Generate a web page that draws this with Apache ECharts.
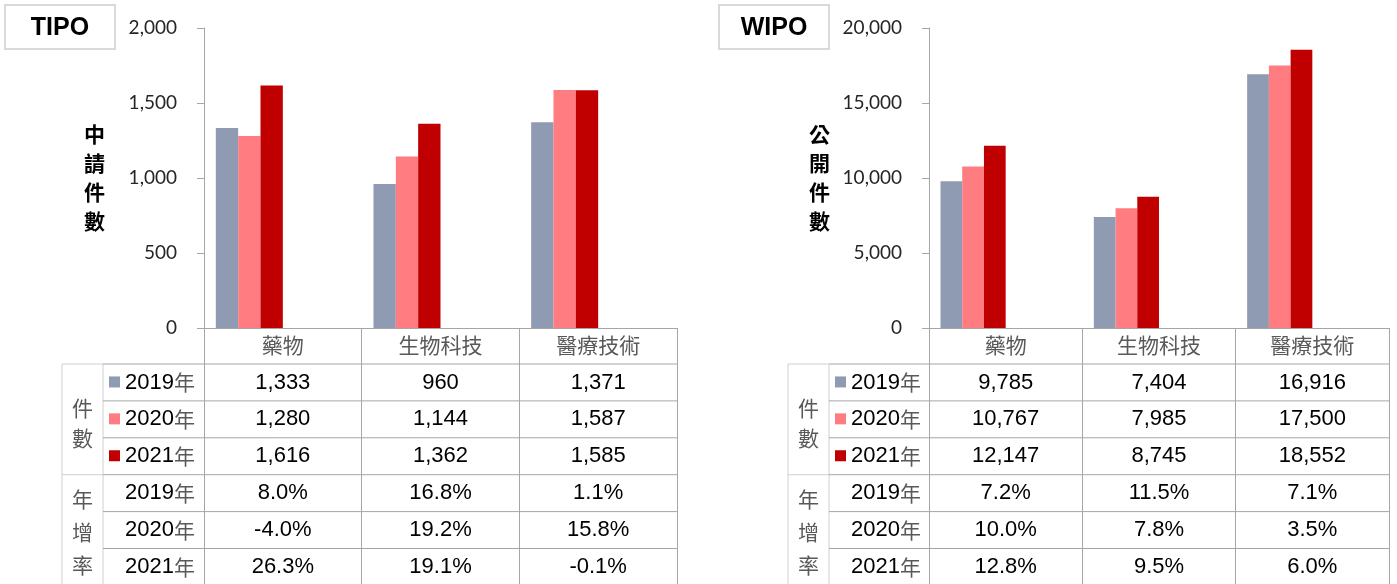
<!DOCTYPE html>
<html>
<head>
<meta charset="utf-8">
<script src="https://cdn.jsdelivr.net/npm/echarts@6/dist/echarts.min.js"></script>
<style>
  html, body { margin: 0; padding: 0; background: #fff; }
  #chart { width: 1397px; height: 584px; }
</style>
</head>
<body>
<div id="chart"></div>
<script>
const categories = ['藥物', '生物科技', '醫療技術']
const years = ['2019', '2020', '2021']
const colors = ['#8e9bb3', '#ff7c80', '#c00000']

// TIPO 申請件數
const tipo2019 = [1333, 960, 1371]
const tipo2020 = [1280, 1144, 1587]
const tipo2021 = [1616, 1362, 1585]
// TIPO 年增率 (%)
const tipoGrowth2019 = [8.0, 16.8, 1.1]
const tipoGrowth2020 = [-4.0, 19.2, 15.8]
const tipoGrowth2021 = [26.3, 19.1, -0.1]

// WIPO 公開件數
const wipo2019 = [9785, 7404, 16916]
const wipo2020 = [10767, 7985, 17500]
const wipo2021 = [12147, 8745, 18552]
// WIPO 年增率 (%)
const wipoGrowth2019 = [7.2, 11.5, 7.1]
const wipoGrowth2020 = [10.0, 7.8, 3.5]
const wipoGrowth2021 = [12.8, 9.5, 6.0]

const panels = [
    {
        title: 'TIPO', yName: '中\n請\n件\n數', max: 2000, interval: 500,
        counts: [tipo2019, tipo2020, tipo2021],
        growth: [tipoGrowth2019, tipoGrowth2020, tipoGrowth2021],
        boxX: 5, gridLeft: 204, gridWidth: 473, groupX: 62, labelX: 103,
    },
    {
        title: 'WIPO', yName: '公\n開\n件\n數', max: 20000, interval: 5000,
        counts: [wipo2019, wipo2020, wipo2021],
        growth: [wipoGrowth2019, wipoGrowth2020, wipoGrowth2021],
        boxX: 719, gridLeft: 929, gridWidth: 460, groupX: 788, labelX: 829,
    },
]

const gridTop = 28
const gridHeight = 300
const headerH = 36
const rowH = 36.9
const bottom = 590
const lineDark = '#a6a6a6'
const lineLight = '#d0d0d0'
const numFont = '22px "Liberation Sans", Arial, sans-serif'
const cjkFont = '"Noto Sans CJK TC", sans-serif'

const chart = echarts.init(document.getElementById('chart'))

const fmt = (v) => v.toLocaleString('en-US')
const pct = (v) => v.toFixed(1) + '%'

const grids = []
const xAxes = []
const yAxes = []
const series = []

panels.forEach((p, i) => {
    grids.push({ left: p.gridLeft, top: gridTop, width: p.gridWidth, height: gridHeight })
    xAxes.push({
        type: 'category',
        gridIndex: i,
        data: categories,
        axisLine: { lineStyle: { color: lineDark, width: 1 } },
        axisTick: { show: true, interval: 0, length: bottom - gridTop - gridHeight, lineStyle: { color: lineDark } },
        axisLabel: { margin: 7, fontSize: 21, color: '#595959', fontFamily: cjkFont },
    })
    yAxes.push({
        type: 'value',
        gridIndex: i,
        min: 0,
        max: p.max,
        interval: p.interval,
        name: p.yName,
        nameLocation: 'middle',
        nameRotate: 0,
        nameGap: 99,
        nameTextStyle: { fontSize: 21, fontWeight: 'bold', lineHeight: 29, color: '#000', fontFamily: cjkFont },
        axisLine: { show: true, lineStyle: { color: lineDark } },
        axisTick: { show: true, length: 7, lineStyle: { color: lineDark } },
        splitLine: { show: false },
        axisLabel: { margin: 27, fontSize: 19, color: '#262626', fontFamily: 'Lato, sans-serif', formatter: fmt },
    })
    years.forEach((y, k) => {
        series.push({
            type: 'bar',
            name: p.title + y,
            xAxisIndex: i,
            yAxisIndex: i,
            data: p.counts[k],
            itemStyle: { color: colors[k] },
            barGap: '0%',
            barCategoryGap: '15%',
            silent: true,
        })
    })
    // empty slots so the bar group sits on the left of each column
    for (let k = 0; k < 3; k++) {
        series.push({
            type: 'bar', xAxisIndex: i, yAxisIndex: i, data: [null, null, null],
            barGap: '0%', barCategoryGap: '15%', silent: true,
        })
    }
})

chart.setOption({
    animation: false,
    grid: grids,
    xAxis: xAxes,
    yAxis: yAxes,
    series: series,
})

const line = (x1, y1, x2, y2, color) => ({
    type: 'line', silent: true,
    shape: { x1, y1, x2, y2 },
    style: { stroke: color, lineWidth: 1 },
})
const text = (t, x, y, extra) => ({
    type: 'text', silent: true,
    style: Object.assign({ text: t, x, y, textAlign: 'center', textVerticalAlign: 'middle', font: numFont, fill: '#000' }, extra || {}),
})

const graphic = []
panels.forEach((p, i) => {
    const right = p.gridLeft + p.gridWidth
    const tableTop = gridTop + gridHeight + headerH
    const xs = categories.map((c) => chart.convertToPixel({ xAxisIndex: i }, c))

    // title box
    graphic.push({
        type: 'rect', silent: true,
        shape: { x: p.boxX, y: 5, width: 110, height: 44 },
        style: { fill: '#fff', stroke: '#d9d9d9', lineWidth: 2 },
    })
    graphic.push(text(p.title, p.boxX + 55, 28, { font: 'bold 25px "Liberation Sans", Arial, sans-serif' }))

    // table grid
    graphic.push(line(p.groupX, tableTop, p.groupX, bottom, lineLight))
    graphic.push(line(p.labelX, tableTop, p.labelX, bottom, lineLight))
    for (let r = 0; r < 6; r++) {
        const y = tableTop + r * rowH
        if (r === 0 || r === 3) graphic.push(line(p.groupX, y, p.labelX, y, lineLight))
        graphic.push(line(p.labelX, y, right, y, lineDark))
    }

    // group labels
    graphic.push(text('件\n數', (p.groupX + p.labelX) / 2, tableTop + 1.6 * rowH,
        { font: '21px ' + cjkFont, fill: '#595959', lineHeight: 30 }))
    graphic.push(text('年\n增\n率', (p.groupX + p.labelX) / 2, tableTop + 4.55 * rowH,
        { font: '21px ' + cjkFont, fill: '#595959', lineHeight: 33 }))

    const rich = {
        y: { font: numFont, fill: '#000' },
        n: { fontSize: 21, fontFamily: cjkFont, fill: '#595959' },
    }
    const rows = []
    years.forEach((y, k) => rows.push({ year: y, color: colors[k], values: p.counts[k].map(fmt) }))
    years.forEach((y, k) => rows.push({ year: y, color: null, values: p.growth[k].map(pct) }))

    rows.forEach((row, r) => {
        const cy = tableTop + r * rowH + rowH / 2
        if (row.color) {
            graphic.push({
                type: 'rect', silent: true,
                shape: { x: p.labelX + 6, y: cy - 6, width: 11, height: 11 },
                style: { fill: row.color },
            })
        }
        graphic.push(text('{y|' + row.year + '}{n|年}', p.labelX + 22, cy, { textAlign: 'left', rich }))
        row.values.forEach((v, c) => graphic.push(text(v, xs[c], cy)))
    })
})

chart.setOption({ graphic })
</script>
</body>
</html>
